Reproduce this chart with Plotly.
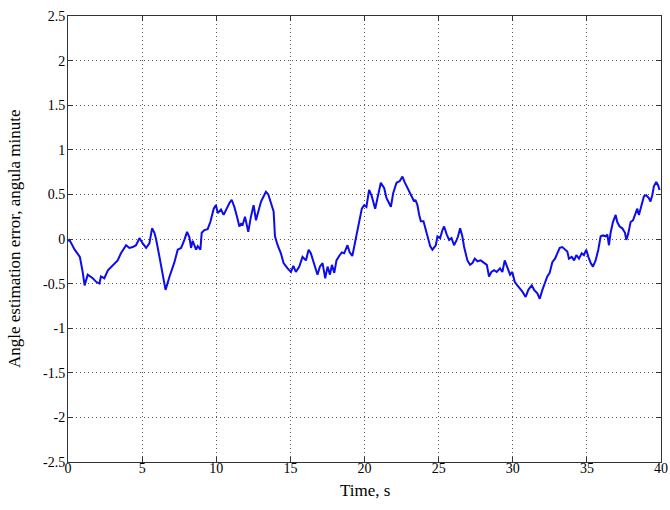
import plotly.graph_objects as go

time_s = [
    0.0, 0.1, 0.45, 0.8, 1.0, 1.12, 1.33, 1.67, 1.9, 2.12, 2.22, 2.45, 2.69, 3.02, 3.35, 3.57,
    3.8, 3.92, 4.14, 4.37, 4.59, 4.82, 5.04, 5.27, 5.49, 5.67, 5.83, 5.94, 6.17, 6.39, 6.58,
    6.85, 7.18, 7.4, 7.63, 7.85, 8.03, 8.19, 8.3, 8.41, 8.64, 8.75, 8.93, 9.02, 9.2, 9.42,
    9.6, 9.83, 9.98, 10.1, 10.32, 10.5, 10.66, 10.88, 11.04, 11.22, 11.4, 11.56, 11.67, 11.78,
    11.94, 12.16, 12.34, 12.52, 12.68, 12.84, 13.02, 13.2, 13.35, 13.51, 13.69, 13.87, 13.96,
    14.14, 14.36, 14.54, 14.81, 15.04, 15.2, 15.37, 15.6, 15.82, 16.05, 16.23, 16.38, 16.61,
    16.83, 16.99, 17.17, 17.35, 17.51, 17.67, 17.8, 17.96, 18.11, 18.29, 18.47, 18.63, 18.85,
    19.0, 19.18, 19.3, 19.41, 19.64, 19.82, 19.98, 20.13, 20.31, 20.49, 20.72, 20.94, 21.1,
    21.33, 21.48, 21.66, 21.78, 21.93, 22.16, 22.38, 22.56, 22.7, 22.9, 23.08, 23.24, 23.35,
    23.43, 23.57, 23.69, 23.8, 23.98, 24.07, 24.25, 24.43, 24.58, 24.81, 24.92, 25.1, 25.26,
    25.37, 25.55, 25.71, 25.87, 26.04, 26.22, 26.31, 26.45, 26.6, 26.72, 26.83, 26.94, 27.12,
    27.28, 27.44, 27.62, 27.84, 28.07, 28.25, 28.4, 28.56, 28.74, 28.92, 29.14, 29.3, 29.46,
    29.64, 29.82, 29.97, 30.13, 30.31, 30.42, 30.65, 30.87, 31.05, 31.28, 31.44, 31.66, 31.82,
    32.0, 32.18, 32.33, 32.49, 32.67, 32.85, 33.0, 33.17, 33.34, 33.52, 33.68, 33.79, 33.98,
    34.14, 34.29, 34.47, 34.65, 34.8, 34.96, 35.1, 35.26, 35.41, 35.59, 35.77, 35.93, 36.09,
    36.27, 36.38, 36.49, 36.6, 36.76, 36.94, 37.05, 37.21, 37.39, 37.57, 37.66, 37.79, 37.95,
    38.11, 38.29, 38.4, 38.51, 38.69, 38.85, 39.0, 39.18, 39.29, 39.41, 39.52, 39.68, 39.81,
    39.9,
]

angle_error = [
    -0.02, -0.01, -0.12, -0.2, -0.38, -0.52, -0.40, -0.44, -0.48, -0.50, -0.42, -0.44, -0.35,
    -0.29, -0.24, -0.16, -0.09, -0.07, -0.10, -0.09, -0.07, 0.01, -0.05, -0.10, -0.05, 0.12,
    0.07, 0.0, -0.20, -0.38, -0.57, -0.42, -0.26, -0.12, -0.10, -0.01, 0.08, 0.02, -0.10,
    -0.02, -0.12, -0.08, -0.12, 0.07, 0.10, 0.11, 0.19, 0.34, 0.38, 0.29, 0.33, 0.27, 0.33,
    0.40, 0.44, 0.36, 0.25, 0.14, 0.17, 0.16, 0.25, 0.08, 0.25, 0.38, 0.21, 0.31, 0.42, 0.48,
    0.53, 0.50, 0.40, 0.31, 0.03, -0.07, -0.16, -0.27, -0.33, -0.37, -0.30, -0.37, -0.31,
    -0.20, -0.24, -0.12, -0.16, -0.27, -0.40, -0.31, -0.27, -0.44, -0.31, -0.40, -0.29, -0.38,
    -0.24, -0.19, -0.15, -0.16, -0.07, -0.15, -0.19, -0.09, 0.01, 0.19, 0.34, 0.38, 0.36,
    0.55, 0.48, 0.34, 0.51, 0.63, 0.57, 0.46, 0.40, 0.36, 0.51, 0.63, 0.65, 0.70, 0.64, 0.57,
    0.51, 0.46, 0.42, 0.44, 0.38, 0.27, 0.20, 0.20, 0.14, 0.05, -0.08, -0.12, -0.07, 0.03,
    0.01, 0.10, 0.14, 0.05, -0.01, 0.01, -0.07, -0.01, 0.03, 0.12, 0.03, -0.09, -0.16, -0.24,
    -0.29, -0.27, -0.22, -0.25, -0.24, -0.27, -0.29, -0.42, -0.37, -0.35, -0.37, -0.33, -0.37,
    -0.24, -0.33, -0.40, -0.37, -0.48, -0.52, -0.54, -0.59, -0.65, -0.57, -0.52, -0.57, -0.61,
    -0.67, -0.57, -0.48, -0.42, -0.38, -0.26, -0.22, -0.16, -0.10, -0.09, -0.12, -0.14, -0.22,
    -0.20, -0.24, -0.18, -0.22, -0.16, -0.18, -0.12, -0.20, -0.27, -0.31, -0.24, -0.12, 0.03,
    0.04, 0.03, 0.05, -0.07, 0.07, 0.19, 0.27, 0.19, 0.14, 0.12, 0.07, -0.01, 0.06, 0.19,
    0.21, 0.29, 0.34, 0.27, 0.40, 0.48, 0.49, 0.46, 0.42, 0.49, 0.59, 0.64, 0.60, 0.55,
]

x_ticks = [0, 5, 10, 15, 20, 25, 30, 35, 40]
y_ticks = [-2.5, -2, -1.5, -1, -0.5, 0, 0.5, 1, 1.5, 2, 2.5]
y_tick_labels = ["-2.5", "-2", "-1.5", "-1", "-0.5", "0", "0.5", "1", "1.5", "2", "2.5"]

x_title = "Time, s"
y_title = "Angle estimation error, angula minute"

font_family = "Liberation Serif"

fig = go.Figure()
fig.add_trace(go.Scatter(
    x=time_s, y=angle_error, mode="lines",
    line=dict(color="#0c0cec", width=2),
    showlegend=False, hoverinfo="skip",
))

axis_common = dict(
    showline=True, linecolor="#333333", linewidth=1, mirror="allticks",
    ticks="inside", ticklen=5, tickcolor="#333333",
    showgrid=True, gridcolor="#555555", gridwidth=1, griddash="1px,3px",
    zeroline=False, automargin=False, ticklabeloverflow="allow",
    tickfont=dict(family=font_family, size=14, color="black"),
)

fig.update_xaxes(range=[0, 40], tickvals=x_ticks, ticklabelstandoff=-7, **axis_common)
fig.update_yaxes(range=[-2.5, 2.5], tickvals=y_ticks, ticktext=y_tick_labels,
                 ticklabelstandoff=-1, **axis_common)

W, H = 670, 510
plot_l, plot_r, plot_t, plot_b = 68, 661, 16, 462

fig.update_layout(
    width=W, height=H,
    margin=dict(l=plot_l, r=W - plot_r, t=plot_t, b=H - plot_b),
    paper_bgcolor="white", plot_bgcolor="white",
    font=dict(family=font_family, color="black"),
    annotations=[
        dict(text=x_title, x=0.5, xref="paper",
             y=(plot_b - 490) / (plot_b - plot_t),
             yref="paper", showarrow=False,
             font=dict(size=17, family=font_family), xanchor="center", yanchor="middle"),
        dict(text=y_title, x=(14 - plot_l) / (plot_r - plot_l), y=0.5,
             xref="paper", yref="paper", showarrow=False,
             textangle=-90, font=dict(size=17, family=font_family),
             xanchor="center", yanchor="middle"),
    ],
)

fig.write_html(
    "out.html",
    config={"displayModeBar": False},
    post_script="document.body.style.margin='0';document.body.style.overflow='hidden';",
)
